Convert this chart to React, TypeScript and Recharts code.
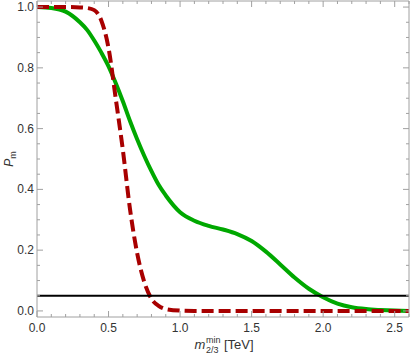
import { LineChart, Line, XAxis, YAxis, ReferenceLine, Label } from 'recharts'

// m_{2/3}^min in TeV
const mass = [
  0, 0.1, 0.2, 0.3, 0.35, 0.4, 0.45, 0.5, 0.55, 0.6, 0.65, 0.7, 0.75, 0.8, 0.85, 0.9,
  1.0, 1.1, 1.2, 1.3, 1.4, 1.5, 1.6, 1.7, 1.8, 1.9, 2.0, 2.1, 2.2, 2.3, 2.4, 2.5, 2.6,
]
const greenP = [
  1.0, 0.997, 0.985, 0.95, 0.925, 0.89, 0.85, 0.805, 0.75, 0.69, 0.625, 0.565, 0.51, 0.46, 0.415, 0.38,
  0.325, 0.297, 0.28, 0.268, 0.253, 0.23, 0.195, 0.153, 0.11, 0.073, 0.045, 0.024, 0.012, 0.006, 0.003, 0.001, 0.0,
]
const redP = [
  1.0, 1.0, 1.0, 0.999, 0.997, 0.99, 0.955, 0.865, 0.7, 0.53, 0.335, 0.19, 0.095, 0.04, 0.017, 0.006,
  0.001, 0, 0, 0, 0, 0, 0, 0, 0, 0, 0, 0, 0, 0, 0, 0, 0,
]
const threshold = 0.05

const xTicks = [
  0, 0.1, 0.2, 0.3, 0.4, 0.5, 0.6, 0.7, 0.8, 0.9, 1.0, 1.1, 1.2, 1.3, 1.4, 1.5, 1.6, 1.7, 1.8, 1.9,
  2.0, 2.1, 2.2, 2.3, 2.4, 2.5, 2.6,
]
const yTicks = [
  0, 0.05, 0.1, 0.15, 0.2, 0.25, 0.3, 0.35, 0.4, 0.45, 0.5, 0.55, 0.6, 0.65, 0.7, 0.75, 0.8, 0.85, 0.9, 0.95, 1.0,
]

const data = mass.map((m, i) => ({ m, green: greenP[i], red: redP[i] }))

const FRAME = '#a0a0a0'
const TEXT = '#333'
const FONT = 'Liberation Sans, Arial, sans-serif'

const isMajor = (v: number, step: number) => Math.abs(v / step - Math.round(v / step)) < 1e-6

function BottomTick({ x, y, payload }: any) {
  const major = isMajor(payload.value, 0.5)
  return (
    <g>
      <line x1={x} x2={x} y1={y} y2={y - (major ? 6 : 3)} stroke={FRAME} />
      {major && (
        <text x={x} y={y + 15} textAnchor="middle" fontSize={12} fill={TEXT} fontFamily={FONT}>
          {payload.value.toFixed(1)}
        </text>
      )}
    </g>
  )
}

function TopTick({ x, y, payload }: any) {
  const major = isMajor(payload.value, 0.5)
  return <line x1={x} x2={x} y1={y} y2={y + (major ? 6 : 3)} stroke={FRAME} />
}

function LeftTick({ x, y, payload }: any) {
  const major = isMajor(payload.value, 0.2)
  return (
    <g>
      <line x1={x} x2={x + (major ? 6 : 3)} y1={y} y2={y} stroke={FRAME} />
      {major && (
        <text x={x - 3} y={y + 4} textAnchor="end" fontSize={12} fill={TEXT} fontFamily={FONT}>
          {payload.value.toFixed(1)}
        </text>
      )}
    </g>
  )
}

function RightTick({ x, y, payload }: any) {
  const major = isMajor(payload.value, 0.2)
  return <line x1={x} x2={x - (major ? 6 : 3)} y1={y} y2={y} stroke={FRAME} />
}

function XTitle({ viewBox }: any) {
  const cx = viewBox.x + viewBox.width / 2
  const y = viewBox.y
  return (
    <g fontFamily={FONT} fill={TEXT}>
      <text x={cx - 23} y={y + 32} textAnchor="middle" fontSize={13} fontStyle="italic">m</text>
      <text x={cx - 17} y={y + 26} fontSize={9}>min</text>
      <text x={cx - 17} y={y + 36} fontSize={9}>2/3</text>
      <text x={cx + 1} y={y + 32} fontSize={13}>[TeV]</text>
    </g>
  )
}

function YTitle({ viewBox }: any) {
  const cy = viewBox.y + viewBox.height / 2
  return (
    <text transform={`translate(13, ${cy}) rotate(-90)`} textAnchor="middle" fontFamily={FONT} fill={TEXT}>
      <tspan fontSize={12} fontStyle="italic">P</tspan>
      <tspan fontSize={9} dy={3}>m</tspan>
    </text>
  )
}

export default function App() {
  return (
    <div style={{ position: 'absolute', left: 0, top: 0 }}>
      <LineChart width={410} height={355} data={data} margin={{ top: 0, right: 0, bottom: 0, left: 0 }}>
        <XAxis
          dataKey="m"
          type="number"
          domain={[0, 2.6]}
          ticks={xTicks}
          interval={0}
          tick={<BottomTick />}
          tickLine={false}
          tickSize={0}
          tickMargin={0}
          axisLine={{ stroke: FRAME }}
          height={38}
          allowDataOverflow
        >
          <Label content={<XTitle />} />
        </XAxis>
        <XAxis
          xAxisId="top"
          orientation="top"
          dataKey="m"
          type="number"
          domain={[0, 2.6]}
          ticks={xTicks}
          interval={0}
          tick={<TopTick />}
          tickLine={false}
          tickSize={0}
          tickMargin={0}
          axisLine={{ stroke: FRAME }}
          height={1}
          allowDataOverflow
        />
        <YAxis
          type="number"
          domain={[-0.02, 1.02]}
          ticks={yTicks}
          interval={0}
          tick={<LeftTick />}
          tickLine={false}
          tickSize={0}
          tickMargin={0}
          axisLine={{ stroke: FRAME }}
          width={37}
          allowDataOverflow
        >
          <Label content={<YTitle />} />
        </YAxis>
        <YAxis
          yAxisId="right"
          orientation="right"
          type="number"
          domain={[-0.02, 1.02]}
          ticks={yTicks}
          interval={0}
          tick={<RightTick />}
          tickLine={false}
          tickSize={0}
          tickMargin={0}
          axisLine={{ stroke: FRAME }}
          width={1}
          allowDataOverflow
        />
        <Line
          type="monotone"
          dataKey="green"
          stroke="#00a800"
          strokeWidth={4}
          dot={false}
          isAnimationActive={false}
        />
        <Line
          type="monotone"
          dataKey="red"
          stroke="#a80000"
          strokeWidth={4}
          strokeDasharray="12 5"
          dot={false}
          isAnimationActive={false}
        />
        <ReferenceLine y={threshold} stroke="#000" strokeWidth={2} />
      </LineChart>
    </div>
  )
}
